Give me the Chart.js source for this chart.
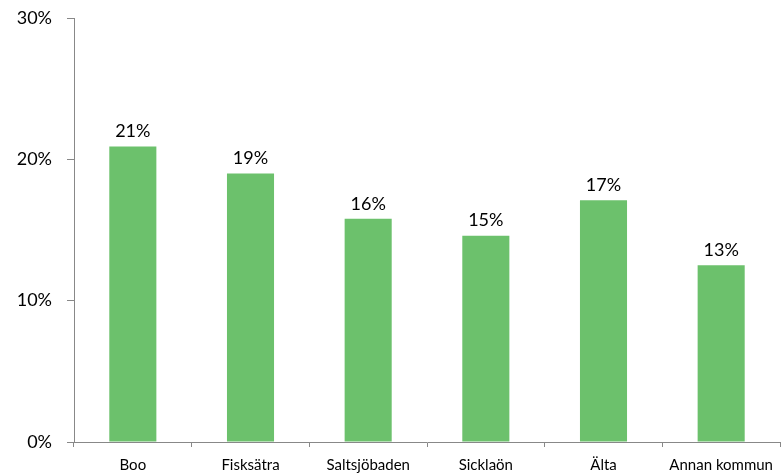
<!DOCTYPE html>
<html>
<head>
<meta charset="utf-8">
<script src="https://cdn.jsdelivr.net/npm/chart.js@4"></script>
<style>
  html, body { margin: 0; padding: 0; background: #fff; }
  #wrap { width: 783px; height: 475px; position: relative; }
</style>
</head>
<body>
<div id="wrap"><canvas id="chart"></canvas></div>
<script>
// Chart data
const categories = ['Boo', 'Fisksätra', 'Saltsjöbaden', 'Sicklaön', 'Älta', 'Annan kommun'];
const shares = [20.9, 19.0, 15.8, 14.6, 17.1, 12.5];
const valueLabels = ['21%', '19%', '16%', '15%', '17%', '13%'];
const yTicks = [0, 10, 20, 30];

const fontFamily = 'Lato, "Open Sans", sans-serif';

// Draw value labels above each bar
const barLabels = {
    id: 'barLabels',
    afterDatasetsDraw(chart) {
        const ctx = chart.ctx;
        const meta = chart.getDatasetMeta(0);
        ctx.save();
        ctx.font = '18px ' + fontFamily;
        ctx.fillStyle = '#000';
        ctx.textAlign = 'center';
        ctx.textBaseline = 'bottom';
        meta.data.forEach(function(bar, i) {
            ctx.fillText(valueLabels[i], bar.x, bar.y - 6);
        });
        ctx.restore();
    }
};

new Chart(document.getElementById('chart'), {
    type: 'bar',
    data: {
        labels: categories,
        datasets: [{
            data: shares,
            backgroundColor: '#6cc16c',
            categoryPercentage: 1,
            barPercentage: 0.4
        }]
    },
    options: {
        responsive: true,
        maintainAspectRatio: false,
        animation: false,
        layout: { padding: { top: 18, right: 3, left: 0, bottom: 0 } },
        plugins: {
            legend: { display: false },
            tooltip: { enabled: false }
        },
        scales: {
            x: {
                afterFit: function(scale) { scale.height = 33; },
                grid: {
                    display: true,
                    drawOnChartArea: false,
                    drawTicks: true,
                    tickLength: 5,
                    color: '#888',
                    offset: true
                },
                border: { display: true, color: '#888', width: 1 },
                ticks: {
                    color: '#000',
                    font: { family: fontFamily, size: 15 },
                    padding: 9,
                    maxRotation: 0,
                    autoSkip: false
                }
            },
            y: {
                min: 0,
                max: 30,
                afterFit: function(scale) {
                    scale.width = 74;
                    scale.paddingTop = 0;
                    scale.paddingBottom = 0;
                },
                afterBuildTicks: function(scale) {
                    scale.ticks = yTicks.map(function(v) { return { value: v }; });
                },
                grid: {
                    display: true,
                    drawOnChartArea: false,
                    drawTicks: true,
                    tickLength: 7,
                    color: '#888'
                },
                border: { display: true, color: '#888', width: 1 },
                ticks: {
                    color: '#000',
                    font: { family: fontFamily, size: 18 },
                    padding: 15,
                    callback: function(v) { return v + '%'; }
                }
            }
        }
    },
    plugins: [barLabels]
});
</script>
</body>
</html>
